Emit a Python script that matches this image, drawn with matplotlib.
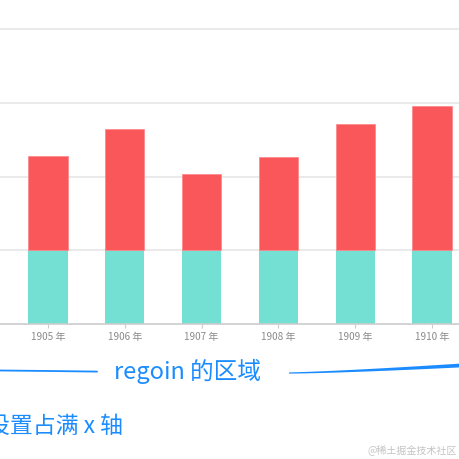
import numpy as np
import matplotlib.pyplot as plt
from matplotlib.patches import Polygon

plt.rcParams['font.family'] = ['Noto Sans CJK SC', 'DejaVu Sans']

# данные
years = ['1905 年', '1906 年', '1907 年', '1908 年', '1909 年', '1910 年']
base = [100, 100, 100, 100, 100, 100]
top = [128, 164, 104, 126, 172, 196]

W, H = 460, 460
fig = plt.figure(figsize=(W / 100, H / 100), dpi=100)

# основная область графика
ax = fig.add_axes([0, 135 / H, 1, 325 / H])
x = np.arange(len(years))
ax.bar(x, base, width=0.51, color='#74e0d3', zorder=2)
ax.bar(x, top, width=0.51, bottom=base, color='#f9575a',
       edgecolor='#fb8a8c', linewidth=0.6, zorder=2)

ax.set_xlim(-0.625, 5.365)
ax.set_ylim(0, 441)
ax.set_yticks([100, 200, 300, 400])
ax.yaxis.grid(True, color='#e6e6e6', linewidth=1.2, zorder=0)
ax.tick_params(axis='y', left=False, labelleft=False)
ax.set_xticks(x)
ax.set_xticklabels(years, fontsize=7.2, color='#8a8a8a')
ax.tick_params(axis='x', length=3, width=0.8, color='#cccccc', pad=2)
for s in ['top', 'left', 'right']:
    ax.spines[s].set_visible(False)
ax.spines['bottom'].set_color('#cccccc')
ax.spines['bottom'].set_linewidth(1.2)

# подписи поверх, в пикселях
ov = fig.add_axes([0, 0, 1, 1], zorder=5)
ov.set_xlim(0, W)
ov.set_ylim(H, 0)
ov.axis('off')
ov.patch.set_alpha(0)

blue = '#1a8cff'
ov.plot([0, 50, 97], [371.5, 372.0, 372.6], color=blue, lw=1.3,
        solid_capstyle='round')
t = np.linspace(0, 1, 30)
rx = 289 + 171 * t
ry = 374 - 7.5 * t ** 1.3
hw = 0.6 + 1.3 * t
poly = np.vstack([np.column_stack([rx, ry - hw]),
                  np.column_stack([rx[::-1], (ry + hw)[::-1]])])
ov.add_patch(Polygon(poly, closed=True, color=blue, lw=0))

ov.text(187.5, 371, 'regoin 的区域', color=blue, fontsize=17,
        ha='center', va='center')
ov.text(-13, 426, '设置占满 x 轴', color=blue, fontsize=16.5,
        ha='left', va='center')
ov.text(457, 451, '@稀土掘金技术社区', color='#c4c4c4', fontsize=7.2,
        ha='right', va='center')

fig.savefig('out.png', dpi=100)
plt.close()
